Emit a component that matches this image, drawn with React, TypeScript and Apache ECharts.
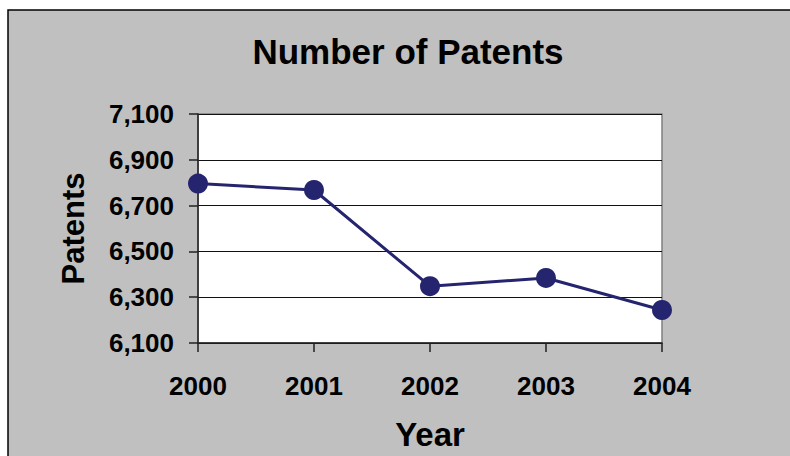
import React, { useEffect, useRef } from "react";
import * as echarts from "echarts";

const years = ["2000", "2001", "2002", "2003", "2004"];
const patents = [6796, 6768, 6348, 6384, 6244];
const yMin = 6100;
const yMax = 7100;
const yStep = 200;

const FONT = "'Liberation Sans', Arial, Helvetica, sans-serif";
const LINE_COLOR = "#25256F";

export default function App() {
  const ref = useRef<HTMLDivElement>(null);

  useEffect(() => {
    if (!ref.current) return;
    const chart = echarts.init(ref.current, null, { renderer: "svg" });
    chart.setOption({
      animation: false,
      backgroundColor: "#ffffff",
      graphic: [
        {
          type: "rect",
          z: -10,
          silent: true,
          shape: { x: 8, y: 10, width: 800, height: 470 },
          style: { fill: "#C0C0C0", stroke: "#000000", lineWidth: 1.5 },
        },
      ],
      title: {
        text: "Number of Patents",
        left: 403,
        top: 29,
        textAlign: "center",
        textStyle: {
          fontFamily: FONT,
          fontWeight: "bold",
          fontSize: 35,
          color: "#000",
        },
      },
      grid: {
        left: 198,
        top: 114,
        right: 128,
        bottom: 111,
        show: true,
        backgroundColor: "#ffffff",
        borderColor: "#808080",
        borderWidth: 1.5,
      },
      xAxis: {
        type: "category",
        data: years,
        boundaryGap: false,
        name: "Year",
        nameLocation: "middle",
        nameGap: 75,
        nameTextStyle: {
          fontFamily: FONT,
          fontWeight: "bold",
          fontSize: 33,
          color: "#000",
        },
        axisLine: { show: true, lineStyle: { color: "#222", width: 1.5 } },
        axisTick: {
          show: true,
          alignWithLabel: true,
          length: 9,
          lineStyle: { color: "#222", width: 1.5 },
        },
        axisLabel: {
          margin: 30,
          fontFamily: FONT,
          fontWeight: "bold",
          fontSize: 26,
          color: "#000",
        },
        splitLine: { show: false },
      },
      yAxis: {
        type: "value",
        min: yMin,
        max: yMax,
        interval: yStep,
        name: "Patents",
        nameLocation: "middle",
        nameRotate: 90,
        nameGap: 109,
        nameTextStyle: {
          fontFamily: FONT,
          fontWeight: "bold",
          fontSize: 31,
          color: "#000",
        },
        axisLine: { show: true, lineStyle: { color: "#222", width: 1.5 } },
        axisTick: {
          show: true,
          length: 9,
          lineStyle: { color: "#222", width: 1.5 },
        },
        axisLabel: {
          margin: 24,
          fontFamily: FONT,
          fontWeight: "bold",
          fontSize: 26,
          color: "#000",
          formatter: (v: number) => v.toLocaleString("en-US"),
        },
        splitLine: { show: true, lineStyle: { color: "#111", width: 1 } },
      },
      series: [
        {
          type: "line",
          data: patents,
          symbol: "circle",
          symbolSize: 20,
          lineStyle: { color: LINE_COLOR, width: 3 },
          itemStyle: { color: LINE_COLOR },
          clip: false,
        },
      ],
    });
    return () => chart.dispose();
  }, []);

  return (
    <div
      ref={ref}
      style={{ position: "fixed", left: 0, top: 0, width: 790, height: 456 }}
    />
  );
}
